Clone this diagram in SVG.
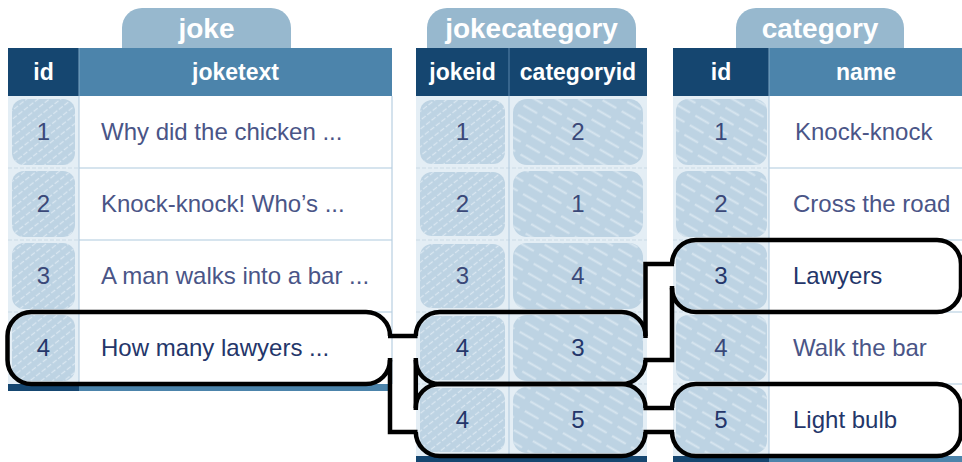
<svg xmlns="http://www.w3.org/2000/svg" width="962" height="462" viewBox="0 0 962 462">
<style>
  text { font-family: "Liberation Sans", Arial, sans-serif; }
  .title { font-size: 28px; font-weight: bold; fill: #ffffff; text-anchor: middle; }
  .head { font-size: 23px; font-weight: bold; fill: #ffffff; text-anchor: middle; }
  .num { font-size: 24px; fill: #3a4878; text-anchor: middle; }
  .txt { font-size: 24px; fill: #4a5587; }
  .hi { fill: #24366a; }
  .tab { fill: #97b8ce; }
  .dark { fill: #154670; }
  .mid { fill: #4c84ab; }
  .lightbg { fill: #e4eef5; }
  .vsep { stroke: #b7cfe1; stroke-width: 1.2; }
  .hsep { stroke: #c8dbe9; stroke-width: 1.5; }
  .dsep { stroke: #c9d9e6; stroke-width: 1.2; stroke-dasharray: 4 2; }
  .scrA { fill: #bdd3e3; }
  .hatchA { fill: url(#hA); }
  .hatchB { fill: url(#hB); }
  .outline { fill: none; stroke: #000000; stroke-width: 4.5; stroke-linejoin: miter; }
</style>
<defs>
  <pattern id="hA" width="7" height="7" patternUnits="userSpaceOnUse" patternTransform="rotate(-38)">
    <line x1="0" y1="3.5" x2="5" y2="3.5" stroke="#dae7f1" stroke-width="1.2"/>
  </pattern>
  <pattern id="hB" width="22" height="11" patternUnits="userSpaceOnUse" patternTransform="rotate(30)">
    <line x1="0" y1="5.5" x2="15" y2="5.5" stroke="#d8e6f0" stroke-width="2" stroke-linecap="round"/>
  </pattern>
</defs>

<!-- joke table -->
<g id="table-joke">
  <path class="tab" d="M122,48 V28 A20,20 0 0 1 142,8 H271 A20,20 0 0 1 291,28 V48 Z"/>
  <text class="title" x="206.5" y="38">joke</text>
  <rect class="dark" x="8" y="48" width="71" height="48"/>
  <rect class="mid" x="79" y="48" width="313" height="48"/>
  <line x1="79" y1="48" x2="79" y2="96" stroke="#7ea5c3" stroke-width="1"/>
  <text class="head" x="43.5" y="80">id</text>
  <text class="head" x="235.5" y="80">joketext</text>
  <rect class="lightbg" x="8" y="96" width="71" height="288"/>
  <rect x="79" y="96" width="313" height="288" fill="#ffffff"/>
  <line class="hsep" x1="79" y1="168" x2="392" y2="168"/>
  <line class="hsep" x1="79" y1="240" x2="392" y2="240"/>
  <line class="hsep" x1="79" y1="312" x2="392" y2="312"/>
  <line class="dsep" x1="8" y1="168" x2="79" y2="168"/>
  <line class="dsep" x1="8" y1="240" x2="79" y2="240"/>
  <line class="dsep" x1="8" y1="312" x2="79" y2="312"/>
  <line class="vsep" x1="79" y1="96" x2="79" y2="384"/>
  <line class="vsep" x1="392" y1="96" x2="392" y2="384"/>
  <rect class="dark" x="8" y="384" width="71" height="7"/>
  <rect class="mid" x="79" y="384" width="313" height="7"/>
  <g id="joke-row-1">
    <rect class="scrA" x="12" y="99" width="63" height="66" rx="12"/>
    <rect class="hatchA" x="12" y="99" width="63" height="66" rx="12"/>
    <text class="num" x="43.5" y="140">1</text>
    <text class="txt" x="101" y="140">Why did the chicken ...</text>
  </g>
  <g id="joke-row-2">
    <rect class="scrA" x="12" y="171" width="63" height="66" rx="12"/>
    <rect class="hatchA" x="12" y="171" width="63" height="66" rx="12"/>
    <text class="num" x="43.5" y="212">2</text>
    <text class="txt" x="101" y="212">Knock-knock! Who’s ...</text>
  </g>
  <g id="joke-row-3">
    <rect class="scrA" x="12" y="243" width="63" height="66" rx="12"/>
    <rect class="hatchA" x="12" y="243" width="63" height="66" rx="12"/>
    <text class="num" x="43.5" y="284">3</text>
    <text class="txt" x="101" y="284">A man walks into a bar ...</text>
  </g>
  <g id="joke-row-4">
    <rect class="scrA" x="12" y="315" width="63" height="66" rx="12"/>
    <rect class="hatchA" x="12" y="315" width="63" height="66" rx="12"/>
    <text class="num hi" x="43.5" y="356">4</text>
    <text class="txt hi" x="101" y="356">How many lawyers ...</text>
  </g>
</g>

<!-- jokecategory table -->
<g id="table-jokecategory">
  <path class="tab" d="M427,48 V28 A20,20 0 0 1 447,8 H616 A20,20 0 0 1 636,28 V48 Z"/>
  <text class="title" x="531.5" y="38">jokecategory</text>
  <rect class="dark" x="416" y="48" width="231" height="48"/>
  <line x1="509" y1="48" x2="509" y2="96" stroke="#5a84aa" stroke-width="1"/>
  <text class="head" x="462.5" y="80">jokeid</text>
  <text class="head" x="578" y="80">categoryid</text>
  <rect class="lightbg" x="416" y="96" width="231" height="360"/>
  <line class="dsep" x1="416" y1="168" x2="647" y2="168"/>
  <line class="dsep" x1="416" y1="240" x2="647" y2="240"/>
  <line class="dsep" x1="416" y1="312" x2="647" y2="312"/>
  <line class="dsep" x1="416" y1="384" x2="647" y2="384"/>
  <line class="vsep" x1="509" y1="96" x2="509" y2="456"/>
  <rect class="dark" x="416" y="456" width="231" height="6"/>
  <g id="jc-row-1">
    <rect class="scrA" x="420" y="100" width="85" height="64" rx="12"/>
    <rect class="hatchA" x="420" y="100" width="85" height="64" rx="12"/>
    <rect class="scrA" x="513" y="99" width="130" height="66" rx="14"/>
    <rect class="hatchB" x="513" y="99" width="130" height="66" rx="14"/>
    <text class="num" x="462.5" y="140">1</text>
    <text class="num" x="578" y="140">2</text>
  </g>
  <g id="jc-row-2">
    <rect class="scrA" x="420" y="172" width="85" height="64" rx="12"/>
    <rect class="hatchA" x="420" y="172" width="85" height="64" rx="12"/>
    <rect class="scrA" x="513" y="171" width="130" height="66" rx="14"/>
    <rect class="hatchB" x="513" y="171" width="130" height="66" rx="14"/>
    <text class="num" x="462.5" y="212">2</text>
    <text class="num" x="578" y="212">1</text>
  </g>
  <g id="jc-row-3">
    <rect class="scrA" x="420" y="244" width="85" height="64" rx="12"/>
    <rect class="hatchA" x="420" y="244" width="85" height="64" rx="12"/>
    <rect class="scrA" x="513" y="243" width="130" height="66" rx="14"/>
    <rect class="hatchB" x="513" y="243" width="130" height="66" rx="14"/>
    <text class="num" x="462.5" y="284">3</text>
    <text class="num" x="578" y="284">4</text>
  </g>
  <g id="jc-row-4">
    <rect class="scrA" x="420" y="316" width="85" height="64" rx="12"/>
    <rect class="hatchA" x="420" y="316" width="85" height="64" rx="12"/>
    <rect class="scrA" x="513" y="315" width="130" height="66" rx="14"/>
    <rect class="hatchB" x="513" y="315" width="130" height="66" rx="14"/>
    <text class="num hi" x="462.5" y="356">4</text>
    <text class="num hi" x="578" y="356">3</text>
  </g>
  <g id="jc-row-5">
    <rect class="scrA" x="420" y="388" width="85" height="64" rx="12"/>
    <rect class="hatchA" x="420" y="388" width="85" height="64" rx="12"/>
    <rect class="scrA" x="513" y="387" width="130" height="66" rx="14"/>
    <rect class="hatchB" x="513" y="387" width="130" height="66" rx="14"/>
    <text class="num hi" x="462.5" y="428">4</text>
    <text class="num hi" x="578" y="428">5</text>
  </g>
</g>

<!-- category table -->
<g id="table-category">
  <path class="tab" d="M736,48 V28 A20,20 0 0 1 756,8 H884 A20,20 0 0 1 904,28 V48 Z"/>
  <text class="title" x="820" y="38">category</text>
  <rect class="dark" x="673" y="48" width="96" height="48"/>
  <rect class="mid" x="769" y="48" width="193" height="48"/>
  <line x1="769" y1="48" x2="769" y2="96" stroke="#7ea5c3" stroke-width="1"/>
  <text class="head" x="721" y="80">id</text>
  <text class="head" x="866" y="80">name</text>
  <rect class="lightbg" x="673" y="96" width="96" height="360"/>
  <rect x="769" y="96" width="193" height="360" fill="#ffffff"/>
  <line class="hsep" x1="769" y1="168" x2="962" y2="168"/>
  <line class="hsep" x1="769" y1="240" x2="962" y2="240"/>
  <line class="hsep" x1="769" y1="312" x2="962" y2="312"/>
  <line class="hsep" x1="769" y1="384" x2="962" y2="384"/>
  <line class="dsep" x1="673" y1="168" x2="769" y2="168"/>
  <line class="dsep" x1="673" y1="240" x2="769" y2="240"/>
  <line class="dsep" x1="673" y1="312" x2="769" y2="312"/>
  <line class="dsep" x1="673" y1="384" x2="769" y2="384"/>
  <line class="vsep" x1="769" y1="96" x2="769" y2="456"/>
  <rect class="dark" x="673" y="456" width="96" height="6"/>
  <rect class="mid" x="769" y="456" width="193" height="6"/>
  <g id="cat-row-1">
    <rect class="scrA" x="676" y="99" width="91" height="66" rx="12"/>
    <rect class="hatchB" x="676" y="99" width="91" height="66" rx="12"/>
    <text class="num" x="721" y="140">1</text>
    <text class="txt" x="795" y="140">Knock-knock</text>
  </g>
  <g id="cat-row-2">
    <rect class="scrA" x="676" y="171" width="91" height="66" rx="12"/>
    <rect class="hatchB" x="676" y="171" width="91" height="66" rx="12"/>
    <text class="num" x="721" y="212">2</text>
    <text class="txt" x="793" y="212">Cross the road</text>
  </g>
  <g id="cat-row-3">
    <rect class="scrA" x="676" y="243" width="91" height="66" rx="12"/>
    <rect class="hatchB" x="676" y="243" width="91" height="66" rx="12"/>
    <text class="num hi" x="721" y="284">3</text>
    <text class="txt hi" x="793" y="284">Lawyers</text>
  </g>
  <g id="cat-row-4">
    <rect class="scrA" x="676" y="315" width="91" height="66" rx="12"/>
    <rect class="hatchB" x="676" y="315" width="91" height="66" rx="12"/>
    <text class="num" x="721" y="356">4</text>
    <text class="txt" x="793" y="356">Walk the bar</text>
  </g>
  <g id="cat-row-5">
    <rect class="scrA" x="676" y="387" width="91" height="66" rx="12"/>
    <rect class="hatchB" x="676" y="387" width="91" height="66" rx="12"/>
    <text class="num hi" x="721" y="428">5</text>
    <text class="txt hi" x="793" y="428">Light bulb</text>
  </g>
</g>

<!-- highlight outlines -->
<g id="highlights">
  <path class="outline" d="M390,336 A24,24 0 0 0 366,312 H31.5 A24,24 0 0 0 7.5,336 V360 A24,24 0 0 0 31.5,384 H366 A24,24 0 0 0 390,360"/>
  <path class="outline" d="M415.8,336 A24,24 0 0 1 439.8,312 H621.5 A24,24 0 0 1 645.5,336"/>
  <path class="outline" d="M415.8,360 A24,24 0 0 0 439.8,384 H621.5 A24,24 0 0 0 645.5,360"/>
  <path class="outline" d="M415.8,408 A24,24 0 0 1 439.8,384 H621.5 A24,24 0 0 1 645.5,408"/>
  <path class="outline" d="M415.8,432 A24,24 0 0 0 439.8,456 H621.5 A24,24 0 0 0 645.5,432"/>
  <path class="outline" d="M672,264 A24,24 0 0 1 696,240 H937 A24,24 0 0 1 961,264 V288 A24,24 0 0 1 937,312 H696 A24,24 0 0 1 672,288"/>
  <path class="outline" d="M672,408 A24,24 0 0 1 696,384 H937 A24,24 0 0 1 961,408 V432 A24,24 0 0 1 937,456 H696 A24,24 0 0 1 672,432"/>
</g>

<!-- connectors -->
<g id="connectors">
  <path class="outline" d="M388,336 H417.5"/>
  <path class="outline" d="M390,358 V432 H417.5"/>
  <path class="outline" d="M415.8,358 V410"/>
  <path class="outline" d="M645.5,338 V264 H674"/>
  <path class="outline" d="M672,286 V360 H643.5"/>
  <path class="outline" d="M643.5,408 H674"/>
  <path class="outline" d="M643.5,432 H674"/>
</g>
</svg>
